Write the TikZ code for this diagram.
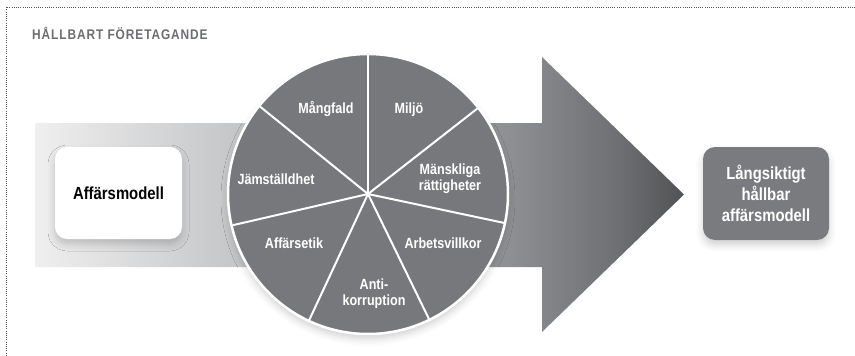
\documentclass[tikz,border=0pt]{standalone}
\usepackage{fontspec}
\setmainfont[FakeStretch=0.85]{Liberation Sans}
\newfontfamily\titlefont[FakeStretch=0.85,LetterSpace=6.5]{Liberation Sans}
\usetikzlibrary{shadows.blur}
\definecolor{seg}{HTML}{77787B}
\definecolor{boxgray}{HTML}{7A7B7E}
\definecolor{titlegray}{HTML}{6D6E71}
\definecolor{dotgray}{HTML}{555555}
\definecolor{cA}{HTML}{EFEFEF}
\definecolor{cB}{HTML}{C6C7C9}
\definecolor{cC}{HTML}{8E8F92}
\definecolor{cD}{HTML}{6E6F72}
\definecolor{cE}{HTML}{515254}
\pgfdeclarehorizontalshading{bandshade}{100bp}{color(0bp)=(cA); color(25bp)=(cA); color(40bp)=(cB); color(61.6bp)=(cC); color(70bp)=(cD); color(75bp)=(cE); color(100bp)=(cE)}
\tikzset{
  seglabel/.style={text=white, font=\bfseries\fontsize{14.8}{16}\selectfont, align=center, inner sep=0pt},
  softshadow/.style={blur shadow={shadow xshift=0pt, shadow yshift=-5pt, shadow blur radius=7pt, shadow opacity=18}},
  dotline/.style={dotgray, line width=0.8pt, dash pattern=on 0.9pt off 1.3pt}
}
\begin{document}
\begin{tikzpicture}[x=1pt,y=-1pt]
\useasboundingbox (0,0) rectangle (855,356);
% frame
\coordinate (fc) at (6,7);
\coordinate (fr) at (855,7);
\coordinate (fb) at (6,356);
\draw[dotline] (fr) -- (fc) -- (fb);
% title
\node[anchor=base west, inner sep=0pt, text=titlegray, font=\titlefont\bfseries\fontsize{14}{16}\selectfont] (title) at (32,39) {HÅLLBART FÖRETAGANDE};
% band and arrow
\shade[shading=bandshade] (35,123) -- (542,123) -- (542,57) -- (684,194.5) -- (542,332) -- (542,267) -- (35,267) -- cycle;
% left box
\node[rectangle, rounded corners=12pt, fill=white, minimum width=127pt, minimum height=92pt, inner sep=0pt, softshadow,
      font=\bfseries\fontsize{17.5}{20}\selectfont] (model) at (118.5,193) {Affärsmodell};
% right box
\node[rectangle, rounded corners=12pt, fill=boxgray, minimum width=126pt, minimum height=93pt, inner sep=0pt, softshadow,
      text=white, align=center, font=\bfseries\fontsize{17.5}{21}\selectfont] (result) at (766,193.5) {Långsiktigt\\hållbar\\affärsmodell};
% wheel
\node[circle, minimum size=280pt, inner sep=0pt, outer sep=0pt, fill=seg, draw=white, line width=2.5pt, softshadow] (wheel) at (368,194) {};
\foreach \a in {90, 38.571, -12.857, -64.286, -115.714, -167.143, 141.429}
  \draw[white, line width=2pt] (wheel.center) -- (wheel.\a);
% labels
\node[seglabel] (l1) at (326,109) {Mångfald};
\node[seglabel] (l2) at (409,110) {Miljö};
\node[seglabel] (l3) at (450,179) {Mänskliga\\rättigheter};
\node[seglabel] (l4) at (443,243) {Arbetsvillkor};
\node[seglabel] (l5) at (374,294) {Anti-\\korruption};
\node[seglabel] (l6) at (294,243) {Affärsetik};
\node[seglabel] (l7) at (276,179) {Jämställdhet};
\end{tikzpicture}
\end{document}
